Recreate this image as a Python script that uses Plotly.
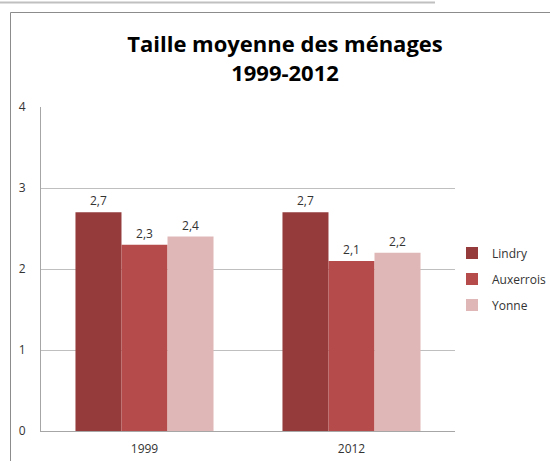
import plotly.graph_objects as go

categories = ["1999", "2012"]
series_names = ["Lindry", "Auxerrois", "Yonne"]
lindry = [2.7, 2.7]
auxerrois = [2.3, 2.1]
yonne = [2.4, 2.2]
colors = ["#953B3B", "#B54B4A", "#E0B7B7"]
y_ticks = [0, 1, 2, 3, 4]

font_family = "Open Sans, sans-serif"

fig = go.Figure()
for name, vals, col in zip(series_names, [lindry, auxerrois, yonne], colors):
    fig.add_trace(go.Bar(
        x=categories, y=vals, name=name, legendgroup=name,
        marker=dict(color=col, line=dict(width=0)),
        text=[f"{v:.1f}".replace(".", ",") for v in vals],
        textposition="outside", cliponaxis=False,
        textfont=dict(family=font_family, size=12, color="#333333"),
    ))

W, H = 550, 461
L, R, T, B = 41, 95, 107, 30
pw, ph = W - L - R, H - T - B

def px(x):
    return (x - L) / pw

def py(y):
    return (H - B - y) / ph

fig.update_layout(
    width=W, height=H,
    margin=dict(l=L, r=R, t=T, b=B, autoexpand=False),
    paper_bgcolor="white", plot_bgcolor="white",
    barmode="group", bargap=0.333, bargroupgap=0,
    separators=", ",
    font=dict(family=font_family, size=12, color="#333333"),
    title=dict(
        text="<b>Taille moyenne des ménages<br>1999-2012</b>",
        x=285 / W, xanchor="center", y=1 - 52 / H, yanchor="middle",
        font=dict(family=font_family, size=22, color="#000000"),
    ),
    showlegend=True,
    legend=dict(
        xref="container", yref="container",
        x=452 / W, xanchor="left", y=1 - 279 / H, yanchor="middle",
        font=dict(family=font_family, size=12, color="#333333"),
        itemwidth=30, tracegroupgap=7, bgcolor="rgba(0,0,0,0)",
    ),
    xaxis=dict(
        showline=True, linecolor="#A6A6A6", linewidth=1,
        ticks="", tickfont=dict(size=12, color="#333333"),
        showgrid=False, ticklabelstandoff=7,
    ),
    yaxis=dict(
        range=[0, 4], tickvals=y_ticks,
        showline=True, linecolor="#A6A6A6", linewidth=1,
        showgrid=True, gridcolor="#BFBFBF", gridwidth=1,
        ticks="", ticklen=0, zeroline=False,
        tickfont=dict(size=12, color="#333333"),
        ticklabelstandoff=12,
    ),
    shapes=[
        dict(type="line", xref="paper", yref="paper", x0=px(10.5), x1=px(550), y0=py(12.5), y1=py(12.5),
             line=dict(color="#8C8C8C", width=1)),
        dict(type="line", xref="paper", yref="paper", x0=px(10.5), x1=px(10.5), y0=py(12.5), y1=py(461),
             line=dict(color="#8C8C8C", width=1)),
        dict(type="line", xref="paper", yref="paper", x0=px(0), x1=px(435), y0=py(2.5), y1=py(2.5),
             line=dict(color="#C0C0C0", width=2)),
    ],
)
fig.write_html("out.html", config={"displayModeBar": False},
               post_script="document.body.style.margin='0';")
